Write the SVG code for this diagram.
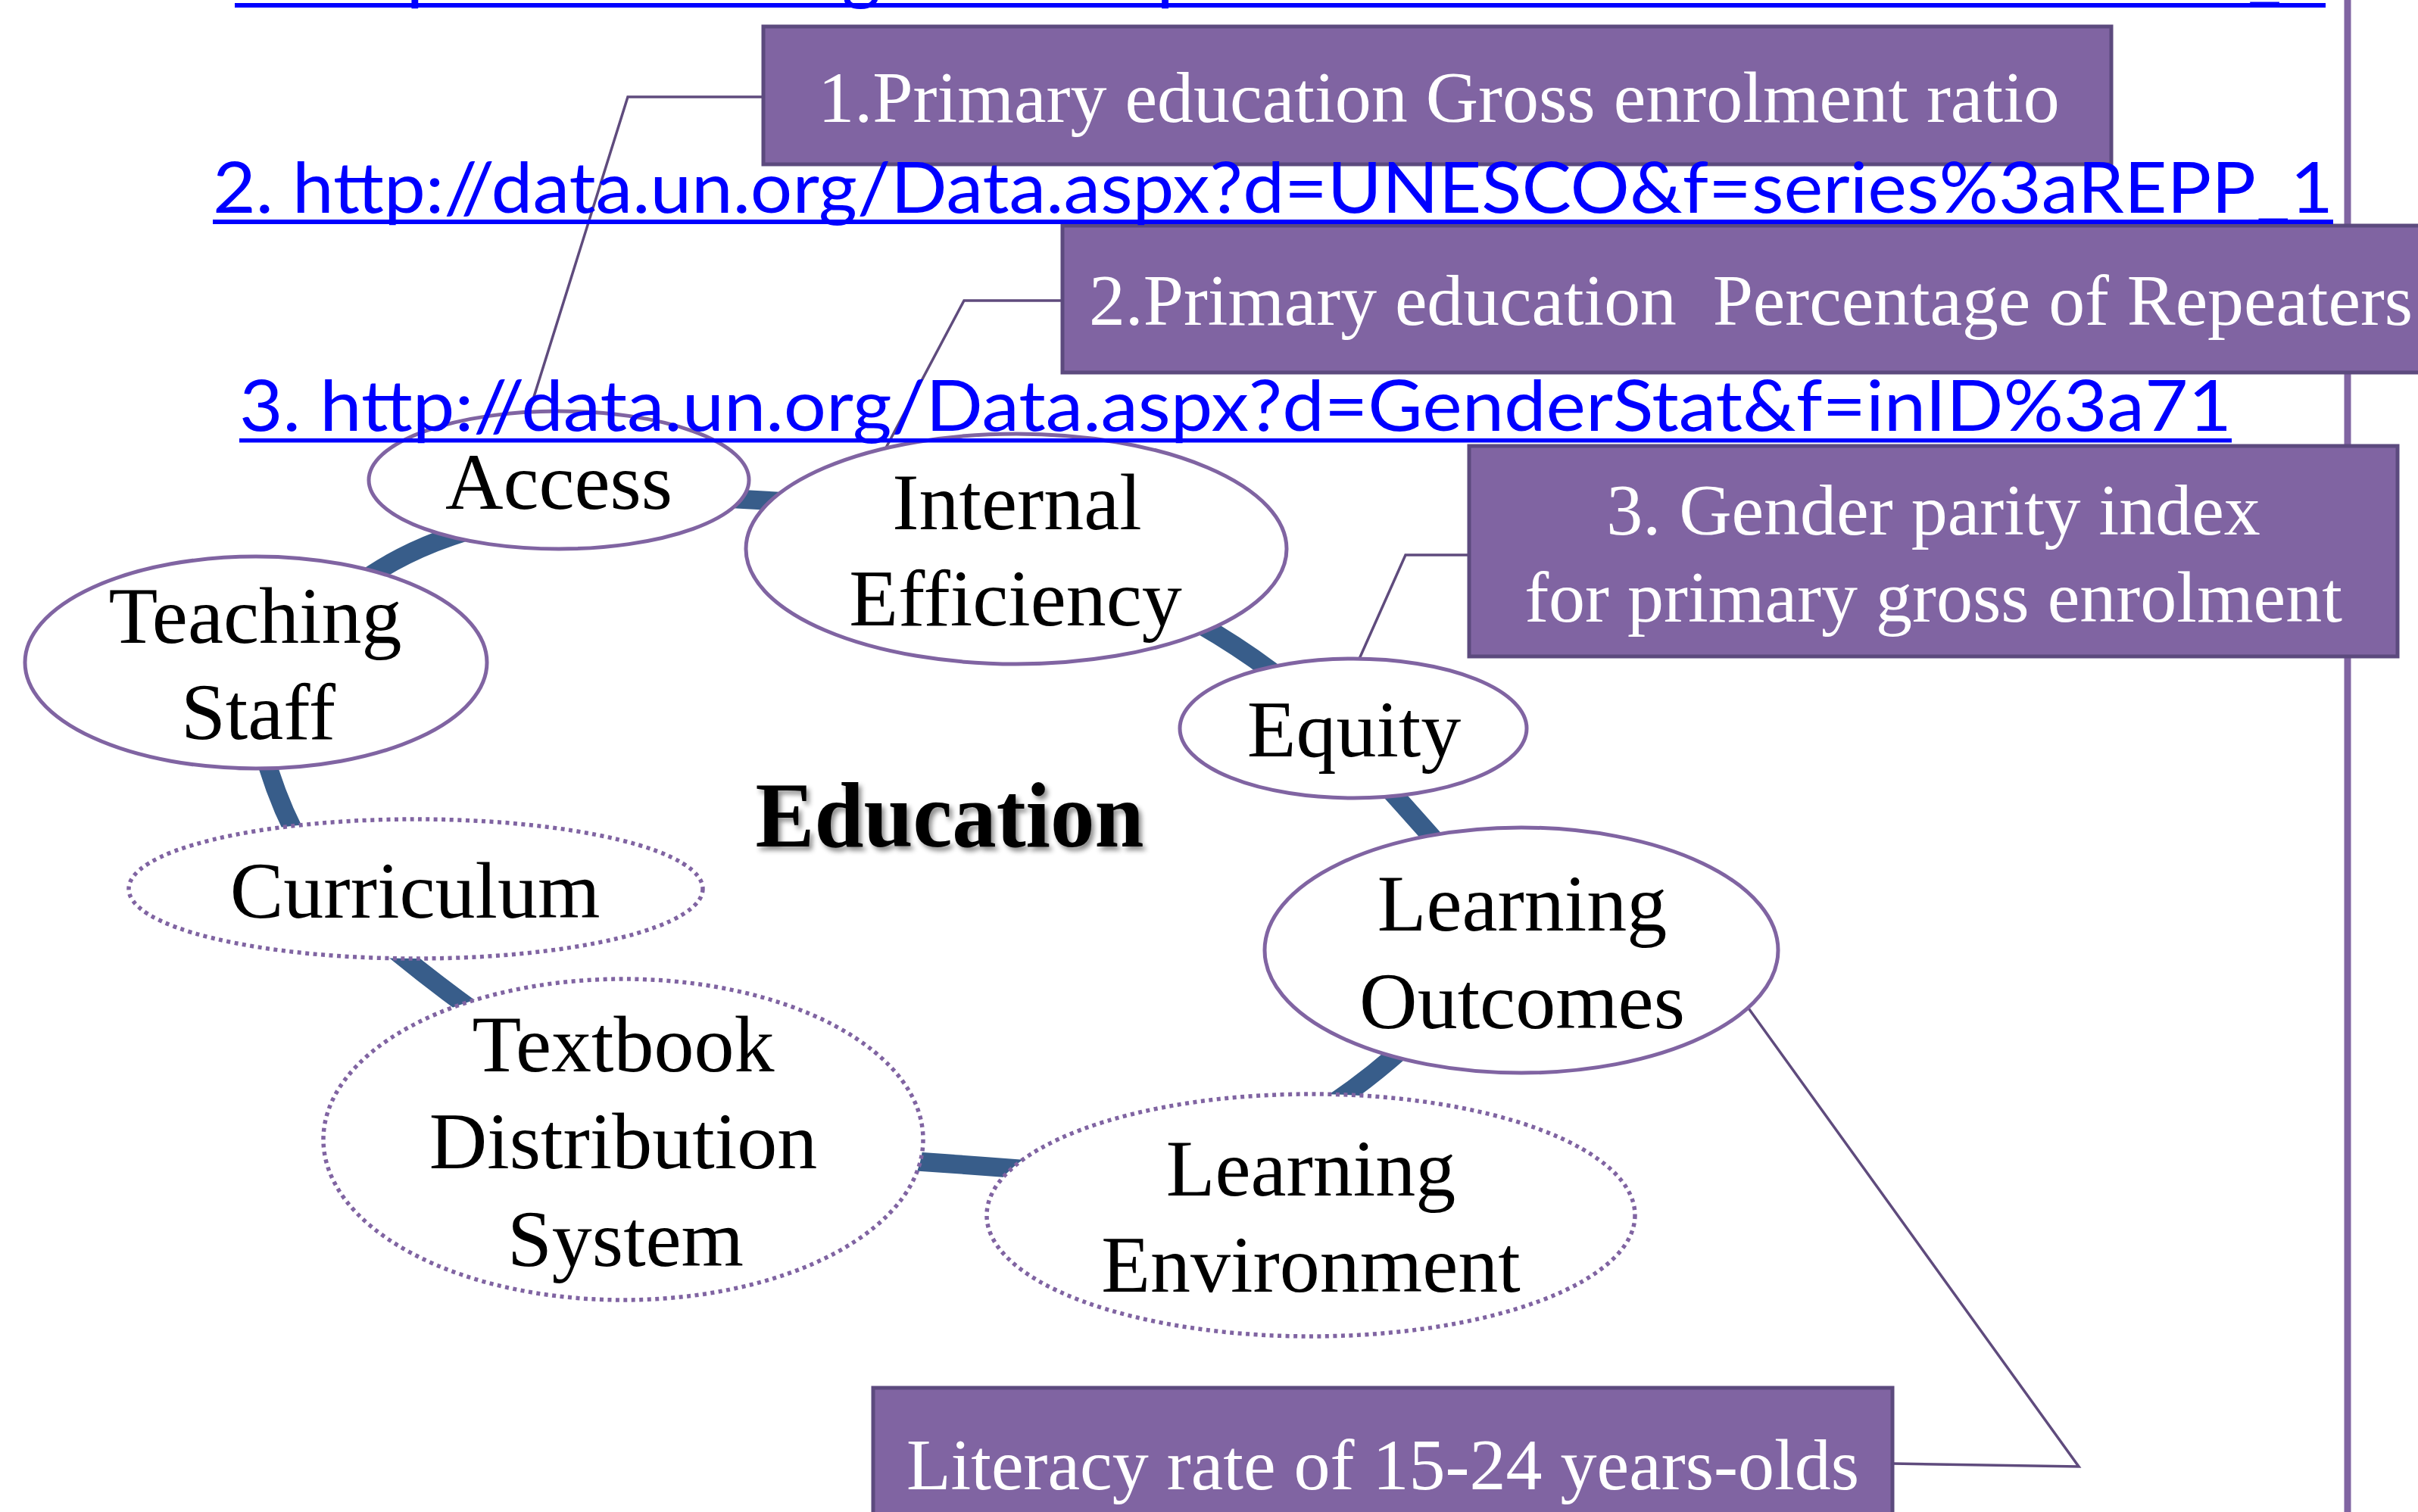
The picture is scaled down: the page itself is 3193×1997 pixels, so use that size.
<svg xmlns="http://www.w3.org/2000/svg" width="3193" height="1997" viewBox="0 0 3193 1997">
  <defs>
    <filter id="softShadow" x="-10%" y="-20%" width="120%" height="150%">
      <feDropShadow dx="4" dy="5" stdDeviation="3" flood-color="#000" flood-opacity="0.45"/>
    </filter>
    <style>
      .ring { fill: none; stroke: #385D8A; stroke-width: 25; stroke-linecap: butt; }
      .callout { fill: none; stroke: #5F4B7D; stroke-width: 3.5; stroke-linejoin: miter; }
      .node { fill: #FFFFFF; stroke: #8064A2; stroke-width: 5; }
      .node-dotted { fill: #FFFFFF; stroke: #8064A2; stroke-width: 5.5; stroke-dasharray: 5 5.5; }
      .label { font-family: "Liberation Serif", "Times New Roman", serif; font-size: 106px; fill: #000; text-anchor: middle; }
      .box { fill: #8064A2; stroke: #5C4A7E; stroke-width: 5; }
      .box-text { font-family: "Liberation Serif", "Times New Roman", serif; font-size: 96px; fill: #FFFFFF; }
      .link { font-family: Lato, "Open Sans", sans-serif; font-size: 94px; fill: #0000FF; }
      .underline { fill: #0000FF; }
      .title { font-family: "Liberation Serif", "Times New Roman", serif; font-size: 122px; font-weight: bold; fill: #000; text-anchor: middle; }
    </style>
  </defs>

  <rect width="3193" height="1997" fill="#FFFFFF"/>

  <!-- right-hand frame rule -->
  <line x1="3100" y1="0" x2="3100" y2="1997" stroke="#8064A2" stroke-width="9"/>

  <!-- connectors: cycle ring segments and callout leaders -->
  <g id="connectors">
    <path class="ring" d="M 450 790 Q 530 720 660 690"/>
    <path class="ring" d="M 900 655 L 1080 665"/>
    <path class="ring" d="M 1520 790 Q 1640 850 1720 920"/>
    <path class="ring" d="M 1805 1010 Q 1860 1070 1930 1150"/>
    <path class="ring" d="M 1900 1340 Q 1820 1420 1740 1470"/>
    <path class="ring" d="M 1400 1548 Q 1260 1537 1150 1530"/>
    <path class="ring" d="M 660 1360 Q 560 1290 480 1220"/>
    <path class="ring" d="M 400 1120 Q 360 1050 340 960"/>

    <polyline class="callout" points="1008,128 829,128 695,556"/>
    <polyline class="callout" points="1403,397 1273,397 1168,595"/>
    <polyline class="callout" points="1940,733 1856,733 1795,870"/>
    <polyline class="callout" points="2307,1329 2745,1937 2499,1933"/>
  </g>

  <!-- cycle nodes -->
  <g id="node-access">
    <ellipse class="node" cx="738" cy="634" rx="251" ry="91"/>
    <text class="label" x="738" y="672">Access</text>
  </g>
  <g id="node-internal-efficiency">
    <ellipse class="node" cx="1342" cy="725" rx="357" ry="152"/>
    <text class="label" x="1343" y="699">Internal</text>
    <text class="label" x="1341" y="826">Efficiency</text>
  </g>
  <g id="node-equity">
    <ellipse class="node" cx="1787" cy="962" rx="229" ry="92"/>
    <text class="label" x="1788" y="999">Equity</text>
  </g>
  <g id="node-learning-outcomes">
    <ellipse class="node" cx="2009" cy="1255" rx="339" ry="162"/>
    <text class="label" x="2010" y="1229">Learning</text>
    <text class="label" x="2010" y="1358">Outcomes</text>
  </g>
  <g id="node-learning-environment">
    <ellipse class="node-dotted" cx="1731" cy="1605" rx="428" ry="160"/>
    <text class="label" x="1731" y="1579">Learning</text>
    <text class="label" x="1731" y="1706">Environment</text>
  </g>
  <g id="node-textbook">
    <ellipse class="node-dotted" cx="823" cy="1505" rx="396" ry="212"/>
    <text class="label" x="823" y="1415">Textbook</text>
    <text class="label" x="823" y="1543">Distribution</text>
    <text class="label" x="826" y="1672">System</text>
  </g>
  <g id="node-curriculum">
    <ellipse class="node-dotted" cx="549" cy="1174" rx="379" ry="92"/>
    <text class="label" x="548" y="1212">Curriculum</text>
  </g>
  <g id="node-teaching-staff">
    <ellipse class="node" cx="338" cy="875" rx="305" ry="140"/>
    <text class="label" x="337" y="849">Teaching</text>
    <text class="label" x="341" y="976">Staff</text>
  </g>

  <g id="node-education">
    <text class="title" x="1254" y="1118" textLength="513" lengthAdjust="spacingAndGlyphs" filter="url(#softShadow)">Education</text>
  </g>

  <!-- indicator boxes -->
  <g id="box-gross-enrolment">
    <rect class="box" x="1008" y="35" width="1780" height="182"/>
    <text class="box-text" x="1900" y="161" text-anchor="middle">1.Primary education Gross enrolment ratio</text>
  </g>
  <g id="box-repeaters">
    <rect class="box" x="1403" y="298" width="1850" height="194"/>
    <text class="box-text" x="1438" y="429" xml:space="preserve" textLength="1748" lengthAdjust="spacingAndGlyphs">2.Primary education  Percentage of Repeaters</text>
  </g>
  <g id="box-gender-parity">
    <rect class="box" x="1940" y="589" width="1226" height="278"/>
    <text class="box-text" x="2553" y="706" text-anchor="middle">3. Gender parity index</text>
    <text class="box-text" x="2553" y="821" text-anchor="middle">for primary gross enrolment</text>
  </g>
  <g id="box-literacy">
    <rect class="box" x="1153" y="1833" width="1346" height="200"/>
    <text class="box-text" x="1826" y="1967" text-anchor="middle">Literacy rate of 15-24 years-olds</text>
  </g>

  <!-- source links -->
  <g id="links">
    <text class="link" x="310" y="-5" textLength="2760" lengthAdjust="spacingAndGlyphs">1. http://data.un.org/Data.aspx?d=UNESCO&amp;f=series%3aGER_1</text>
    <rect class="underline" x="310" y="4" width="2761" height="6"/>
    <text class="link" x="281" y="281" textLength="2800" lengthAdjust="spacingAndGlyphs">2. http://data.un.org/Data.aspx?d=UNESCO&amp;f=series%3aREPP_1</text>
    <rect class="underline" x="281" y="290" width="2800" height="6"/>
    <text class="link" x="316" y="569" textLength="2631" lengthAdjust="spacingAndGlyphs">3. http://data.un.org/Data.aspx?d=GenderStat&amp;f=inID%3a71</text>
    <rect class="underline" x="316" y="579" width="2631" height="5.5"/>
  </g>
</svg>
